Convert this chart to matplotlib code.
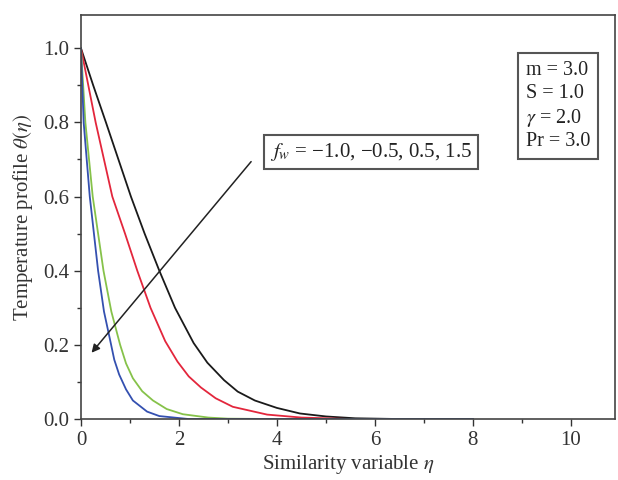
import matplotlib
matplotlib.use("Agg")
import matplotlib.pyplot as plt
from matplotlib.ticker import MultipleLocator, FormatStrFormatter

plt.rcParams['font.family'] = ['Liberation Serif', 'DejaVu Serif']
plt.rcParams['mathtext.fontset'] = 'stix'

# curves, fw = -1.0, -0.5, 0.5, 1.5
eta_k = [0, 0.25, 0.51, 1.02, 1.30, 1.60, 1.92, 2.30, 2.58, 2.92, 3.2, 3.55, 4.0, 4.47, 5.0, 5.6, 6.5, 8.0]
th_k = [1.0, 0.90, 0.80, 0.60, 0.50, 0.40, 0.30, 0.205, 0.152, 0.105, 0.074, 0.05, 0.03, 0.015, 0.007, 0.002, 0.0, 0.0]

eta_r = [0, 0.30, 0.64, 0.90, 1.15, 1.42, 1.72, 1.97, 2.2, 2.45, 2.75, 3.1, 3.8, 4.5, 5.5, 8.0]
th_r = [1.0, 0.80, 0.60, 0.50, 0.40, 0.30, 0.21, 0.155, 0.115, 0.085, 0.056, 0.033, 0.012, 0.004, 0.0, 0.0]

eta_g = [0, 0.09, 0.24, 0.46, 0.62, 0.80, 0.92, 1.06, 1.25, 1.47, 1.75, 2.08, 2.6, 3.0, 4.0, 8.0]
th_g = [1.0, 0.80, 0.60, 0.40, 0.29, 0.20, 0.15, 0.11, 0.075, 0.05, 0.027, 0.013, 0.004, 0.001, 0.0, 0.0]

eta_b = [0, 0.055, 0.18, 0.35, 0.47, 0.60, 0.68, 0.78, 0.92, 1.06, 1.35, 1.6, 2.2, 8.0]
th_b = [1.0, 0.80, 0.60, 0.40, 0.29, 0.21, 0.16, 0.12, 0.08, 0.05, 0.02, 0.008, 0.0, 0.0]

fig = plt.figure(figsize=(6.18, 4.8), dpi=100)
ax = fig.add_axes([0.131, 0.127, 0.864, 0.842])

ax.plot(eta_k, th_k, color='#1a1a1a', lw=1.3)
ax.plot(eta_r, th_r, color='#e3263c', lw=1.3)
ax.plot(eta_g, th_g, color='#86c24a', lw=1.3)
ax.plot(eta_b, th_b, color='#3450b0', lw=1.3)

ax.set_xlim(0, 10.9)
ax.set_ylim(0, 1.09)
ax.xaxis.set_major_locator(MultipleLocator(2))
ax.xaxis.set_minor_locator(MultipleLocator(1))
ax.yaxis.set_major_locator(MultipleLocator(0.2))
ax.yaxis.set_minor_locator(MultipleLocator(0.1))
ax.yaxis.set_major_formatter(FormatStrFormatter('%.1f'))
ax.tick_params(which='major', direction='out', length=5, width=1, labelsize=15, colors='#333333')
ax.tick_params(which='minor', direction='out', length=3, width=1, colors='#333333')
for s in ax.spines.values():
    s.set_color('#444444')
    s.set_linewidth(1.2)

ax.set_xlabel(r'Similarity variable $\eta$', fontsize=15, color='#333333', labelpad=2)
ax.set_ylabel(r'Temperature profile $\theta(\eta)$', fontsize=15, color='#333333', labelpad=6)

ax.annotate('', xy=(0.18, 0.173), xytext=(3.51, 0.70),
            arrowprops=dict(arrowstyle='-|>', color='#222222', lw=1.1, mutation_scale=12))
ax.text(5.92, 0.72, r'$f_w$ = −1.0, −0.5, 0.5, 1.5', fontsize=15, ha='center', va='center',
        color='#222222', bbox=dict(boxstyle='square,pad=0.3', fc='white', ec='#555555', lw=1.5))
ax.text(9.08, 0.965, 'm = 3.0\nS = 1.0\n$\\gamma$ = 2.0\nPr = 3.0', fontsize=14.5, ha='left', va='top',
        color='#222222', linespacing=1.25,
        bbox=dict(boxstyle='square,pad=0.4', fc='white', ec='#555555', lw=1.5))

fig.savefig('out.png', dpi=100)
